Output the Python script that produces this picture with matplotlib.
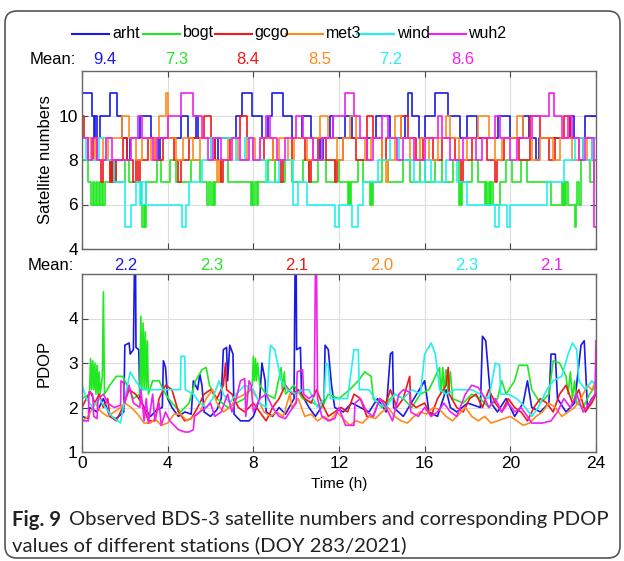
import matplotlib
matplotlib.use('Agg')
import matplotlib.pyplot as plt
from matplotlib.lines import Line2D
from matplotlib.patches import FancyBboxPatch
from matplotlib.transforms import IdentityTransform

plt.rcParams['font.family'] = ['Liberation Sans', 'DejaVu Sans']

stations = ['arht', 'bogt', 'gcgo', 'met3', 'wind', 'wuh2']
colors = ['#1a1ae6', '#22e822', '#f01818', '#ff8a1e', '#22f0f0', '#f020f0']
mean_sat = [9.4, 7.3, 8.4, 8.5, 7.2, 8.6]
mean_pdop = [2.2, 2.3, 2.1, 2.0, 2.3, 2.1]

# satellite numbers: (hour at which the count changes, new count)
sat_arht = [(0, 11), (0.45, 10), (0.55, 9), (0.62, 10), (0.7, 9), (0.85, 10), (1.3, 11), (1.62, 10),
            (1.85, 9), (2.1, 8), (2.25, 9), (2.7, 10), (3.2, 9), (3.55, 8), (3.65, 9), (4.6, 10),
            (4.95, 9), (5.3, 10), (5.4, 9), (6.2, 8), (6.35, 9), (7.2, 10), (7.45, 11), (7.92, 10),
            (8.4, 9), (8.7, 10), (8.86, 11), (9.4, 10), (9.8, 9), (10.25, 10), (10.7, 9), (11.1, 8),
            (11.25, 9), (11.6, 10), (11.7, 9), (12.3, 10), (12.6, 9), (13.75, 10), (14.4, 9),
            (15.1, 10), (15.2, 11), (15.4, 10), (15.75, 9), (16.0, 10), (16.5, 11), (17.1, 10),
            (17.65, 9), (17.96, 10), (18.43, 9), (19.44, 10), (19.98, 9), (20.6, 10), (20.85, 9),
            (21.2, 8), (21.35, 9), (22.8, 10), (22.95, 9), (23.5, 10)]
sat_bogt = [(0, 8), (0.3, 7), (0.4, 6), (0.5, 7), (0.55, 6), (0.65, 7), (0.7, 6), (0.8, 7), (0.85, 6),
            (0.95, 7), (1.0, 6), (1.07, 7), (1.3, 8), (1.6, 7), (2.0, 8), (2.2, 7), (2.75, 6), (2.8, 5),
            (2.9, 6), (2.95, 5), (3.0, 7), (3.5, 8), (3.7, 7), (4.1, 8), (4.4, 7), (5.1, 8), (5.5, 7),
            (5.85, 6), (5.95, 7), (6.0, 6), (6.1, 7), (6.15, 6), (6.2, 7), (6.5, 8), (6.8, 7), (7.9, 6),
            (7.95, 7), (8.0, 6), (8.1, 7), (8.15, 6), (8.2, 7), (8.7, 8), (9.0, 7), (9.5, 8), (9.8, 7),
            (10.3, 8), (10.6, 7), (11.0, 8), (11.4, 7), (11.8, 8), (12.0, 7), (12.4, 6), (12.45, 7),
            (12.5, 6), (12.55, 7), (12.9, 8), (13.1, 7), (13.45, 6), (13.5, 7), (13.55, 6), (13.6, 7),
            (14.0, 8), (14.3, 7), (15.0, 8), (15.3, 7), (15.8, 8), (16.0, 7), (16.5, 8), (16.8, 7),
            (17.3, 8), (17.6, 6), (17.65, 7), (17.7, 6), (17.75, 7), (18.2, 8), (18.5, 7), (18.8, 6),
            (18.85, 7), (18.9, 6), (19.0, 7), (19.05, 6), (19.1, 7), (19.2, 6), (19.5, 7), (19.8, 8),
            (20.1, 7), (20.5, 8), (20.8, 7), (21.9, 6), (22.4, 7), (22.45, 6), (22.5, 7), (22.55, 6),
            (22.6, 7), (22.7, 6), (23.0, 5), (23.05, 6), (23.1, 7), (23.2, 6), (23.3, 8), (23.7, 7),
            (23.9, 8)]
sat_gcgo = [(0, 10), (0.1, 9), (0.3, 8), (0.5, 9), (0.7, 8), (0.9, 7), (1.0, 8), (1.3, 7), (1.35, 8),
            (1.4, 7), (1.45, 8), (1.5, 7), (1.6, 8), (1.9, 9), (2.1, 8), (2.4, 7), (2.5, 8), (2.6, 7),
            (2.7, 8), (3.1, 9), (3.4, 8), (3.8, 9), (4.3, 8), (4.5, 7), (4.6, 8), (5.0, 9), (5.7, 10),
            (6.0, 9), (6.2, 8), (6.5, 7), (6.6, 8), (6.9, 9), (7.4, 10), (7.7, 9), (8.0, 8), (8.5, 9),
            (8.9, 8), (9.3, 7), (9.4, 8), (9.8, 9), (10.4, 8), (10.6, 7), (10.7, 8), (11.0, 9),
            (11.4, 8), (11.8, 7), (11.9, 8), (12.2, 9), (12.8, 8), (13.3, 10), (13.6, 9), (14.0, 8),
            (14.2, 9), (14.9, 10), (15.2, 9), (15.6, 8), (15.9, 9), (16.4, 8), (16.8, 9), (17.4, 8),
            (17.7, 7), (17.8, 8), (18.2, 9), (18.9, 8), (19.3, 7), (19.4, 8), (19.7, 9), (20.4, 8),
            (20.9, 10), (21.4, 9), (21.8, 8), (22.1, 9), (22.5, 10), (22.8, 9), (23.2, 8), (23.4, 9),
            (23.8, 8)]
sat_met3 = [(0, 9), (0.4, 8), (0.6, 9), (1.0, 8), (1.2, 9), (1.85, 10), (2.2, 9), (2.5, 8), (2.8, 9),
            (3.2, 8), (3.4, 9), (3.6, 10), (3.9, 11), (4.0, 9), (4.4, 8), (4.7, 9), (5.2, 8), (5.5, 9),
            (6.0, 8), (6.3, 7), (6.4, 8), (6.8, 9), (7.3, 8), (7.7, 9), (8.1, 8), (8.3, 9), (8.9, 8),
            (9.2, 9), (9.6, 8), (9.9, 9), (10.5, 8), (10.8, 9), (11.1, 10), (11.5, 9), (11.9, 8),
            (12.2, 9), (12.5, 10), (12.8, 9), (13.2, 8), (13.5, 9), (14.0, 8), (14.2, 7), (14.3, 8),
            (14.6, 10), (14.9, 9), (15.3, 8), (15.8, 9), (16.2, 8), (16.6, 9), (17.0, 10), (17.2, 9),
            (17.6, 8), (18.0, 9), (18.5, 10), (19.0, 9), (19.3, 8), (19.6, 9), (20.3, 10), (20.6, 9),
            (21.0, 8), (21.4, 9), (22.0, 8), (22.3, 9), (22.9, 8), (23.2, 9), (23.6, 8)]
sat_wind = [(0, 9), (0.2, 8), (0.8, 9), (1.1, 8), (1.5, 7), (2.0, 5), (2.3, 6), (2.5, 7), (2.7, 6),
            (2.8, 7), (3.0, 6), (4.65, 5), (4.85, 6), (5.0, 7), (5.6, 8), (6.0, 9), (6.6, 9), (7.2, 8),
            (7.6, 9), (8.0, 8), (8.6, 7), (9.2, 8), (9.85, 6), (10.1, 7), (10.5, 6), (11.8, 5),
            (12.0, 6), (12.6, 5), (12.9, 6), (13.1, 7), (13.8, 8), (14.4, 9), (14.8, 8), (15.5, 7),
            (16.0, 8), (16.3, 7), (17.0, 8), (17.5, 7), (18.0, 6), (19.3, 5), (19.45, 6), (19.85, 5),
            (20.0, 6), (21.7, 7), (22.5, 8), (23.0, 9), (23.4, 8), (23.8, 9)]
sat_wuh2 = [(0, 9), (0.3, 8), (0.45, 9), (0.7, 8), (1.1, 9), (1.4, 8), (2.3, 9), (2.6, 10), (2.8, 9),
            (3.3, 8), (3.5, 9), (4.0, 10), (4.6, 11), (5.2, 10), (5.6, 9), (5.9, 8), (6.1, 9), (6.5, 8),
            (7.0, 9), (7.4, 8), (7.8, 9), (8.0, 8), (8.3, 9), (8.6, 10), (8.8, 9), (9.1, 8), (9.5, 9),
            (10.0, 10), (10.3, 9), (10.8, 8), (11.2, 9), (11.7, 10), (12.3, 11), (12.7, 10), (13.0, 9),
            (13.3, 8), (13.6, 9), (14.0, 10), (14.3, 9), (14.7, 8), (15.0, 9), (15.5, 8), (16.0, 9),
            (16.6, 10), (16.8, 9), (17.2, 8), (17.8, 9), (18.4, 8), (18.7, 9), (19.3, 10), (19.5, 9),
            (20.0, 8), (20.3, 9), (21.0, 10), (21.8, 11), (22.05, 10), (22.4, 9), (22.7, 10),
            (22.9, 9), (23.2, 8), (23.5, 9), (23.9, 5)]

# PDOP: (hour, value)
pdop_arht = [(0, 1.8), (0.3, 1.75), (0.35, 2.0), (0.7, 1.9), (1.0, 2.2), (1.3, 1.8), (1.6, 1.75),
             (1.95, 1.9), (2.0, 3.4), (2.2, 3.45), (2.25, 3.2), (2.4, 3.3), (2.45, 5.2), (2.5, 5.2),
             (2.52, 3.35), (2.65, 3.3), (2.7, 2.2), (2.9, 2.0), (3.2, 1.8), (3.5, 1.95), (3.75, 2.0),
             (3.8, 3.05), (3.9, 2.9), (4.0, 2.2), (4.2, 2.0), (4.5, 1.8), (4.8, 1.9), (5.1, 1.85),
             (5.2, 2.6), (5.4, 2.4), (5.5, 2.75), (5.6, 2.5), (5.7, 1.9), (6.0, 1.8), (6.3, 1.95),
             (6.5, 2.2), (6.6, 3.3), (6.75, 3.35), (6.8, 2.6), (6.9, 3.4), (7.05, 3.2), (7.1, 1.85),
             (7.4, 1.7), (7.8, 1.7), (8.0, 1.8), (8.3, 2.2), (8.4, 3.0), (8.55, 2.6), (8.6, 1.9),
             (8.9, 1.8), (9.2, 2.0), (9.5, 1.85), (9.9, 2.2), (9.95, 5.2), (10.0, 5.2), (10.02, 3.3),
             (10.2, 3.35), (10.25, 2.3), (10.6, 2.0), (10.9, 1.8), (11.3, 2.1), (11.35, 3.4),
             (11.5, 3.3), (11.65, 2.5), (11.8, 2.0), (12.2, 1.9), (12.6, 2.1), (13.0, 2.0), (13.4, 1.9),
             (13.8, 2.2), (14.2, 1.9), (14.4, 3.2), (14.5, 3.25), (14.55, 2.0), (15.0, 1.8), (15.5, 2.2),
             (16.0, 2.6), (16.2, 1.9), (16.6, 1.8), (17.0, 2.4), (17.2, 2.0), (17.5, 1.9), (18.0, 2.1),
             (18.6, 2.0), (18.7, 3.6), (18.85, 3.5), (19.1, 2.1), (19.4, 1.9), (19.8, 2.2), (20.2, 1.8),
             (20.6, 2.1), (20.8, 2.6), (21.0, 2.0), (21.4, 1.9), (21.8, 2.1), (21.9, 3.2), (22.1, 3.2),
             (22.2, 2.2), (22.6, 1.9), (23.0, 2.1), (23.3, 3.4), (23.45, 3.5), (23.6, 2.0), (23.8, 2.2),
             (24.0, 2.3)]
pdop_bogt = [(0, 2.2), (0.35, 2.3), (0.4, 3.1), (0.45, 2.4), (0.5, 3.05), (0.55, 2.4), (0.6, 3.0),
             (0.65, 2.3), (0.7, 2.95), (0.75, 2.3), (0.8, 2.8), (0.85, 2.3), (0.95, 2.7), (1.0, 4.6),
             (1.05, 2.3), (1.3, 2.5), (1.6, 2.7), (1.9, 2.7), (2.1, 2.5), (2.4, 2.2), (2.7, 2.3),
             (2.75, 4.05), (2.8, 2.4), (2.85, 3.9), (2.9, 2.4), (2.95, 3.7), (3.0, 2.4), (3.05, 3.5),
             (3.1, 2.3), (3.3, 2.6), (3.6, 2.6), (3.9, 2.3), (4.2, 2.1), (4.6, 1.9), (5.0, 2.1),
             (5.3, 2.6), (5.6, 2.85), (5.8, 2.9), (5.95, 2.5), (6.3, 2.2), (6.8, 2.0), (7.2, 2.1),
             (7.6, 2.2), (7.95, 2.5), (8.0, 3.15), (8.05, 2.6), (8.1, 3.1), (8.15, 2.6), (8.2, 3.0),
             (8.3, 2.5), (8.6, 2.3), (9.0, 2.2), (9.3, 2.9), (9.35, 2.4), (9.45, 2.8), (9.5, 2.3),
             (9.9, 2.5), (10.3, 2.2), (10.8, 2.1), (11.2, 2.0), (11.5, 2.3), (12.0, 2.2), (12.5, 2.4),
             (12.9, 2.6), (13.2, 2.8), (13.5, 2.7), (13.6, 2.2), (14.0, 2.0), (14.6, 2.3), (15.0, 2.2),
             (15.4, 2.0), (15.8, 2.3), (16.2, 2.4), (16.7, 2.9), (16.75, 2.3), (16.85, 2.9), (16.9, 2.3),
             (17.0, 2.85), (17.1, 2.3), (17.2, 2.8), (17.3, 2.2), (17.8, 2.1), (18.2, 2.3), (18.6, 2.2),
             (19.0, 2.0), (19.4, 2.2), (19.6, 2.6), (19.8, 2.3), (20.2, 2.6), (20.4, 2.95), (20.8, 2.95),
             (21.0, 2.4), (21.4, 2.1), (21.8, 2.3), (22.0, 3.05), (22.3, 3.0), (22.6, 2.7), (22.7, 2.3),
             (22.8, 2.8), (22.9, 2.2), (23.0, 2.6), (23.1, 2.1), (23.4, 2.0), (23.7, 2.3), (24.0, 2.5)]
pdop_gcgo = [(0, 2.0), (0.2, 2.2), (0.4, 2.35), (0.6, 2.1), (0.8, 2.3), (1.0, 2.0), (1.2, 2.2),
             (1.3, 1.8), (1.6, 1.7), (1.9, 2.0), (2.2, 2.4), (2.5, 2.3), (2.8, 2.1), (3.1, 1.7),
             (3.4, 1.7), (3.6, 2.2), (3.9, 2.5), (4.2, 2.4), (4.5, 1.9), (4.8, 1.7), (5.1, 1.75),
             (5.4, 2.0), (5.7, 2.3), (6.0, 2.4), (6.3, 2.2), (6.6, 2.5), (6.7, 3.0), (6.75, 2.4),
             (7.0, 2.3), (7.3, 2.0), (7.6, 1.9), (8.0, 2.1), (8.3, 1.9), (8.6, 1.7), (8.9, 2.0),
             (9.2, 2.2), (9.5, 2.5), (9.8, 2.3), (10.1, 2.4), (10.4, 2.2), (10.7, 2.1), (10.95, 2.4),
             (11.2, 2.1), (11.5, 1.8), (11.8, 1.9), (12.1, 2.0), (12.4, 1.9), (12.7, 2.3), (13.0, 2.2),
             (13.3, 1.8), (13.6, 1.8), (13.9, 2.2), (14.2, 2.1), (14.4, 2.4), (14.7, 2.0), (15.0, 2.2),
             (15.3, 2.7), (15.35, 2.1), (15.6, 2.0), (16.0, 2.1), (16.3, 1.8), (16.6, 2.2), (17.0, 2.5),
             (17.1, 2.9), (17.15, 2.3), (17.5, 2.0), (17.8, 1.9), (18.1, 2.2), (18.4, 2.3), (18.7, 2.0),
             (19.0, 2.4), (19.3, 2.1), (19.6, 1.9), (19.9, 2.2), (20.2, 2.0), (20.5, 1.9), (20.8, 1.7),
             (21.1, 2.0), (21.4, 2.2), (21.7, 2.1), (22.0, 1.9), (22.3, 2.3), (22.6, 2.5), (22.9, 2.1),
             (23.2, 2.4), (23.5, 1.9), (23.8, 2.1), (24.0, 2.3)]
pdop_met3 = [(0, 1.7), (0.3, 1.8), (0.6, 2.1), (0.9, 1.9), (1.2, 1.8), (1.5, 1.9), (1.8, 2.0),
             (2.0, 2.1), (2.3, 2.0), (2.6, 1.85), (2.9, 1.65), (3.2, 1.65), (3.4, 1.75), (3.7, 1.6),
             (4.0, 1.65), (4.3, 1.85), (4.6, 1.85), (4.9, 1.7), (5.2, 1.8), (5.5, 1.9), (5.8, 2.2),
             (6.1, 2.4), (6.3, 2.1), (6.6, 1.9), (6.9, 2.0), (7.2, 2.2), (7.6, 2.3), (7.9, 2.4),
             (8.2, 2.2), (8.5, 1.9), (8.8, 1.8), (9.1, 1.9), (9.4, 1.8), (9.7, 2.3), (9.8, 2.0),
             (10.1, 2.2), (10.4, 1.8), (10.7, 1.85), (11.0, 1.7), (11.3, 1.8), (11.6, 1.7), (11.9, 1.9),
             (12.2, 1.75), (12.5, 1.6), (12.8, 1.7), (13.1, 1.65), (13.4, 1.8), (13.7, 1.75), (14.0, 1.9),
             (14.3, 2.0), (14.6, 1.8), (14.9, 1.7), (15.2, 1.65), (15.5, 1.8), (15.8, 1.9), (16.1, 1.85),
             (16.4, 2.0), (16.7, 1.95), (17.0, 1.8), (17.3, 1.7), (17.6, 1.85), (17.9, 2.0), (18.2, 1.8),
             (18.5, 1.7), (18.8, 1.8), (19.1, 1.65), (19.4, 1.7), (19.7, 1.75), (20.0, 1.8), (20.3, 1.7),
             (20.6, 1.6), (20.9, 1.65), (21.2, 1.8), (21.5, 1.9), (21.8, 2.1), (22.1, 2.0), (22.4, 1.8),
             (22.7, 1.9), (23.0, 2.0), (23.3, 2.2), (23.6, 2.5), (23.8, 2.4), (24.0, 2.6)]
pdop_wind = [(0, 2.5), (0.2, 2.2), (0.5, 2.0), (0.8, 2.2), (1.1, 2.0), (1.4, 1.8), (1.8, 1.65),
             (2.0, 2.2), (2.25, 2.8), (2.5, 2.6), (2.8, 2.4), (3.4, 2.4), (4.0, 2.4), (4.6, 2.4),
             (4.62, 3.15), (4.8, 3.15), (4.82, 2.4), (5.2, 2.3), (5.5, 2.1), (5.8, 2.0), (6.1, 2.2),
             (6.4, 2.6), (6.6, 2.3), (6.9, 2.1), (7.2, 2.3), (7.6, 2.5), (8.0, 2.4), (8.3, 2.1),
             (8.6, 2.0), (8.8, 3.4), (9.0, 3.3), (9.3, 2.6), (9.6, 2.4), (10.0, 2.3), (10.3, 2.4),
             (10.6, 2.4), (11.0, 2.0), (11.3, 2.2), (11.4, 3.0), (11.5, 2.95), (11.6, 2.2), (12.0, 2.2),
             (12.4, 2.2), (12.7, 3.3), (12.9, 3.3), (12.95, 2.4), (13.4, 2.4), (13.8, 2.1), (14.2, 2.0),
             (14.6, 2.3), (15.0, 2.2), (15.4, 2.4), (15.8, 2.3), (16.0, 3.2), (16.3, 3.45), (16.5, 3.2),
             (16.7, 2.4), (17.0, 2.3), (17.4, 2.4), (17.8, 2.4), (18.2, 2.4), (18.6, 2.3), (19.0, 2.2),
             (19.3, 3.0), (19.5, 2.95), (19.55, 2.3), (19.9, 2.3), (20.3, 2.2), (20.7, 2.0), (21.0, 1.8),
             (21.3, 2.0), (21.7, 2.4), (22.0, 2.6), (22.4, 2.7), (22.7, 3.2), (22.9, 3.45), (23.1, 3.3),
             (23.2, 2.6), (23.5, 2.4), (23.8, 2.6), (24.0, 2.5)]
pdop_wuh2 = [(0, 1.7), (0.3, 1.7), (0.32, 2.35), (0.5, 2.3), (0.55, 1.8), (0.7, 1.75), (0.75, 2.2),
             (1.0, 2.3), (1.2, 2.1), (1.5, 2.0), (1.8, 2.05), (1.82, 2.6), (1.95, 2.55), (2.0, 2.1),
             (2.2, 2.5), (2.4, 2.1), (2.7, 2.0), (2.75, 2.4), (2.9, 1.7), (3.0, 2.2), (3.1, 1.65),
             (3.3, 2.3), (3.4, 1.7), (3.6, 2.1), (3.7, 1.6), (3.9, 1.9), (4.1, 1.7), (4.3, 1.6),
             (4.5, 1.5), (4.8, 1.45), (5.0, 1.45), (5.2, 1.5), (5.25, 1.8), (5.5, 1.9), (5.8, 2.0),
             (6.0, 2.1), (6.2, 1.8), (6.5, 1.9), (6.8, 2.3), (7.0, 1.9), (7.2, 2.2), (7.4, 2.6),
             (7.6, 2.65), (7.65, 1.8), (7.8, 2.6), (7.9, 2.5), (8.0, 1.9), (8.3, 2.2), (8.6, 2.3),
             (8.9, 2.0), (9.2, 1.8), (9.5, 1.75), (9.7, 1.9), (10.0, 2.1), (10.05, 2.8), (10.3, 2.85),
             (10.35, 2.3), (10.6, 2.2), (10.85, 2.3), (10.9, 5.2), (10.95, 5.2), (11.0, 2.2), (11.2, 1.8),
             (11.5, 1.7), (11.8, 1.75), (12.0, 2.0), (12.3, 1.6), (12.7, 1.6), (12.75, 2.1), (13.0, 2.2),
             (13.3, 1.9), (13.6, 1.8), (13.9, 2.2), (14.2, 2.0), (14.5, 1.7), (14.8, 2.3), (15.0, 2.4),
             (15.3, 2.35), (15.35, 1.9), (15.7, 1.8), (16.0, 2.0), (16.3, 1.8), (16.6, 1.9), (16.9, 2.1),
             (17.2, 1.9), (17.5, 1.8), (17.9, 2.3), (18.2, 2.5), (18.5, 2.45), (18.7, 2.3), (19.0, 2.0),
             (19.3, 2.2), (19.6, 1.9), (19.9, 2.1), (20.2, 1.9), (20.5, 2.0), (20.8, 1.8), (21.0, 1.65),
             (21.5, 1.65), (21.9, 1.7), (22.2, 1.9), (22.5, 2.2), (22.8, 2.0), (23.1, 2.3), (23.4, 1.9),
             (23.7, 2.1), (23.95, 2.3), (24.0, 3.5)]

sat_series = [sat_arht, sat_bogt, sat_gcgo, sat_met3, sat_wind, sat_wuh2]
pdop_series = [pdop_arht, pdop_bogt, pdop_gcgo, pdop_met3, pdop_wind, pdop_wuh2]

W, H = 624, 561
fig = plt.figure(figsize=(W / 100, H / 100), dpi=100)
ax1 = fig.add_axes([82 / W, 1 - 249 / H, 514 / W, 178 / H])
ax2 = fig.add_axes([82 / W, 1 - 452 / H, 514 / W, 178 / H])

for sat, c in zip(sat_series, colors):
    t = [p[0] for p in sat] + [24]
    v = [p[1] for p in sat] + [sat[-1][1]]
    ax1.step(t, v, where='post', color=c, lw=1.2)

for pd, c in zip(pdop_series, colors):
    ax2.plot([p[0] for p in pd], [p[1] for p in pd], color=c, lw=1.2)

for ax in (ax1, ax2):
    ax.set_xlim(0, 24)
    ax.set_xticks(range(0, 25, 4))
    ax.tick_params(direction='in', top=True, right=True, length=4, width=0.8,
                   color='#444444', labelsize=12.5, pad=3)
    ax.grid(True, color='#dddddd', lw=0.8)
    ax.set_axisbelow(True)
    for s in ax.spines.values():
        s.set_color('#666666')
        s.set_linewidth(1.0)

ax1.set_ylim(4, 12)
ax1.set_yticks([4, 6, 8, 10])
ax1.tick_params(labelbottom=False)
ax1.set_ylabel('Satellite numbers', fontsize=12, labelpad=4)

ax2.set_ylim(1, 5)
ax2.set_yticks([1, 2, 3, 4])
ax2.set_ylabel('PDOP', fontsize=12, labelpad=12)
ax2.set_xlabel('Time (h)', fontsize=11, labelpad=4)

# legend row
for i, (name, c) in enumerate(zip(stations, colors)):
    x0 = 72 + 71.3 * i
    fig.add_artist(Line2D([x0 / W, (x0 + 37) / W], [1 - 34 / H] * 2, color=c, lw=1.5))
    fig.text((x0 + 40) / W, 1 - 33 / H, name, fontsize=11.5, va='center', ha='left')

# mean values
fig.text(76 / W, 1 - 60 / H, 'Mean:', fontsize=12, va='center', ha='right')
for i, (m, c) in enumerate(zip(mean_sat, colors)):
    fig.text((105 + 71.5 * i) / W, 1 - 60 / H, f'{m:.1f}', color=c, fontsize=12,
             va='center', ha='center')
fig.text(74 / W, 1 - 266 / H, 'Mean:', fontsize=12, va='center', ha='right')
for i, (m, c) in enumerate(zip(mean_pdop, colors)):
    fig.text((126 + 85.2 * i) / W, 1 - 266 / H, f'{m:.1f}', color=c, fontsize=12,
             va='center', ha='center')

# caption
renderer = fig.canvas.get_renderer()
cap_font = ['Lato', 'DejaVu Sans']
cap_size = 14.6
t1 = fig.text(12 / W, 1 - 520 / H, 'Fig. 9', fontsize=cap_size, weight='bold', family=cap_font,
              va='center', ha='left', color='#222222')
bb = t1.get_window_extent(renderer)
fig.text((bb.x1 + 8) / W, 1 - 520 / H, 'Observed BDS-3 satellite numbers and corresponding PDOP',
         fontsize=cap_size, family=cap_font, va='center', ha='left', color='#222222')
fig.text(12 / W, 1 - 545 / H, 'values of different stations (DOY 283/2021)', fontsize=cap_size,
         family=cap_font, va='center', ha='left', color='#222222')

box = FancyBboxPatch((5, 3), 615, 547, boxstyle='round,pad=0,rounding_size=12',
                     transform=IdentityTransform(), fill=False, ec='#555555', lw=1.2)
fig.add_artist(box)

fig.savefig('out.png', dpi=100)
